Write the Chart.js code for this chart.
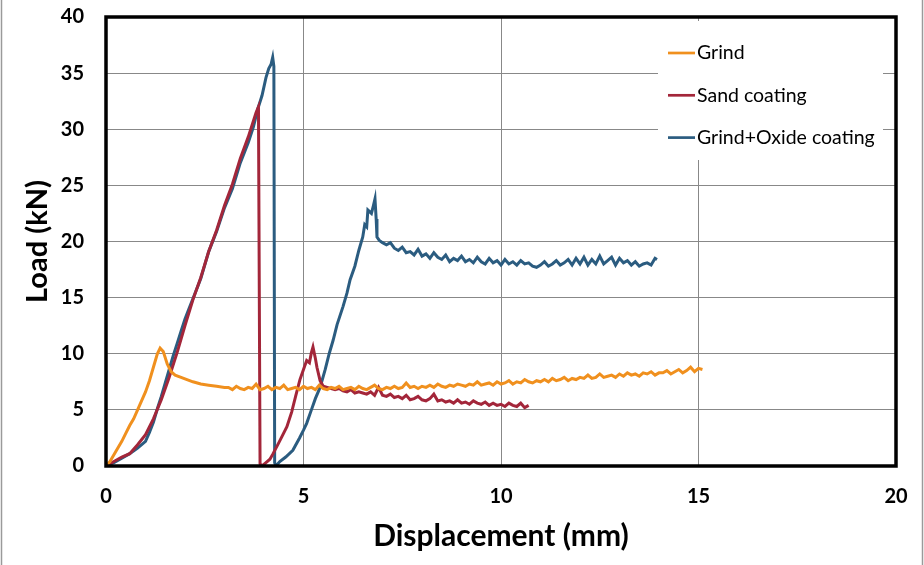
<!DOCTYPE html>
<html>
<head>
<meta charset="utf-8">
<script src="https://cdn.jsdelivr.net/npm/chart.js@4/dist/chart.umd.min.js"></script>
<style>
  html, body { margin: 0; padding: 0; background: #fff; }
  #wrap { width: 924px; height: 565px; position: relative; }
</style>
</head>
<body>
<div id="wrap"><canvas id="grafico" width="924" height="565"></canvas></div>
<script>
// Grind
const grindX = [0,0.1,0.2,0.3,0.4,0.5,0.6,0.7,0.8,0.9,1.0,1.1,1.2,1.3,1.37,1.45,1.55,1.65,1.75,1.9,2.05,2.2,2.4,2.6,2.8,3.0,
  3.1,3.2,3.3,3.4,3.5,3.6,3.7,3.8,3.9,4.0,4.1,4.2,4.3,4.4,4.5,4.6,4.7,4.8,4.9,5.0,
  5.1,5.2,5.3,5.4,5.5,5.6,5.7,5.8,5.9,6.0,6.1,6.2,6.3,6.4,6.5,6.6,6.7,6.8,6.9,7.0,
  7.1,7.2,7.3,7.4,7.5,7.6,7.7,7.8,7.9,8.0,8.1,8.2,8.3,8.4,8.5,8.6,8.7,8.8,8.9,9.0,
  9.1,9.2,9.3,9.4,9.5,9.6,9.7,9.8,9.9,10.0,10.1,10.2,10.3,10.4,10.5,10.6,10.7,10.8,10.9,11.0,
  11.1,11.2,11.3,11.4,11.5,11.6,11.7,11.8,11.9,12.0,12.1,12.2,12.3,12.4,12.5,12.6,12.7,12.8,12.9,13.0,
  13.1,13.2,13.3,13.4,13.5,13.6,13.7,13.8,13.9,14.0,14.1,14.2,14.3,14.4,14.5,14.6,14.7,14.8,14.9,15.0,15.1];
const grindY = [0,0.4,1.0,1.6,2.2,2.9,3.6,4.2,5.0,5.8,6.6,7.6,8.8,10.0,10.5,10.2,9.1,8.4,8.1,7.9,7.7,7.5,7.3,7.2,7.1,7.0,
  7.0,6.8,7.1,6.9,6.8,7.0,6.9,7.3,6.8,6.9,7.1,6.8,7.0,6.9,7.2,6.8,6.9,7.0,6.8,7.1,
  6.9,7.0,6.8,7.2,6.9,6.8,7.0,6.9,7.1,6.8,6.9,7.0,6.8,7.1,6.9,6.8,7.0,7.2,6.9,6.8,
  7.0,6.9,7.1,6.9,7.0,7.4,7.0,7.1,6.9,7.1,7.0,7.2,7.0,7.3,7.1,7.0,7.2,7.1,7.3,7.2,
  7.1,7.3,7.2,7.5,7.2,7.3,7.4,7.2,7.5,7.3,7.4,7.6,7.3,7.5,7.4,7.7,7.5,7.4,7.6,7.5,
  7.7,7.5,7.8,7.6,7.7,7.9,7.6,7.8,7.7,7.9,7.8,8.1,7.8,7.9,8.2,7.9,8.0,8.1,7.9,8.2,
  8.0,8.3,8.1,8.2,8.0,8.3,8.2,8.4,8.1,8.3,8.3,8.5,8.2,8.4,8.6,8.3,8.5,8.8,8.4,8.7,8.6];

// Sand coating
const sandX = [0,0.2,0.4,0.6,0.8,1.0,1.2,1.4,1.6,1.8,2.0,2.2,2.4,2.6,2.8,3.0,3.2,3.4,3.6,3.8,3.86,3.9,3.95,
  4.05,4.15,4.23,4.35,4.45,4.58,4.7,4.8,4.91,5.0,5.08,5.15,5.2,5.24,5.3,5.34,5.42,5.5,
  5.6,5.7,5.8,5.9,6.0,6.1,6.2,6.3,6.4,6.5,6.6,6.7,6.8,6.9,7.0,7.1,7.2,7.3,7.4,7.5,7.6,7.7,7.8,7.9,8.0,
  8.1,8.2,8.3,8.4,8.5,8.6,8.7,8.8,8.9,9.0,9.1,9.2,9.3,9.4,9.5,9.6,9.7,9.8,9.9,10.0,10.1,10.2,10.3,10.4,10.5,10.6,10.7];
const sandY = [0,0.4,0.8,1.1,1.9,2.8,4.2,5.9,7.9,10.1,12.5,14.8,16.8,19.1,21.0,23.2,25.1,27.4,29.3,31.5,32.0,0.2,0,
  0.3,0.6,1.1,1.9,2.6,3.5,4.8,6.2,7.7,8.6,9.4,9.2,10.1,10.6,9.6,8.8,7.6,7.1,
  7.0,6.9,6.8,6.9,6.7,6.6,6.8,6.5,6.6,6.5,6.4,6.6,6.3,7.0,6.3,6.2,6.4,6.1,6.2,6.0,6.3,5.9,6.0,6.2,5.9,
  5.8,6.0,6.4,5.8,5.9,5.7,5.8,5.6,5.9,5.6,5.7,5.5,5.8,5.6,5.5,5.7,5.4,5.6,5.4,5.5,5.3,5.6,5.4,5.3,5.6,5.2,5.4];

// Grind+Oxide coating
const oxideX = [0,0.2,0.4,0.6,0.8,1.0,1.1,1.2,1.3,1.4,1.5,1.6,1.7,1.8,1.9,2.0,2.1,2.2,2.4,2.6,2.8,3.0,3.2,3.4,3.6,3.73,3.85,3.95,4.05,4.12,4.18,4.22,4.25,4.27,4.3,
  4.4,4.55,4.73,4.9,5.0,5.08,5.2,5.3,5.42,5.55,5.65,5.75,5.85,6.0,6.1,6.18,6.3,6.4,6.5,6.55,6.6,6.63,6.72,6.77,6.81,6.84,6.86,6.92,7.0,
  7.1,7.2,7.3,7.4,7.5,7.6,7.7,7.8,7.9,8.0,8.1,8.2,8.3,8.4,8.5,8.6,8.7,8.8,8.9,9.0,
  9.1,9.2,9.3,9.4,9.5,9.6,9.7,9.8,9.9,10.0,10.1,10.2,10.3,10.4,10.5,10.6,10.7,10.8,10.9,11.0,
  11.1,11.2,11.3,11.4,11.5,11.6,11.7,11.8,11.9,12.0,12.1,12.2,12.3,12.4,12.5,12.6,12.7,12.8,12.9,13.0,
  13.1,13.2,13.3,13.4,13.5,13.6,13.7,13.8,13.9,13.95];
const oxideY = [0,0.3,0.7,1.1,1.6,2.2,3.0,3.9,5.1,6.2,7.4,8.6,9.8,10.9,12.0,13.1,14.0,14.9,16.7,19.1,20.9,23.0,24.7,27.0,28.8,30.2,31.9,33.0,34.6,35.4,35.8,36.4,35.6,0.3,0,
  0.4,0.8,1.4,2.5,3.2,3.8,5.0,6.0,7.0,8.6,10.0,11.2,12.6,14.2,15.4,16.6,17.8,19.2,20.4,21.5,21.3,22.8,22.5,23.2,23.8,22.0,20.4,20.1,19.9,
  19.7,19.9,19.4,19.2,19.5,19.0,19.1,18.8,19.3,18.7,18.9,18.5,19.0,18.6,18.4,18.8,18.2,18.5,18.3,18.7,
  18.2,18.4,18.1,18.6,18.2,18.0,18.5,18.1,18.3,17.9,18.4,18.0,18.2,17.9,18.3,18.0,18.1,17.8,17.7,17.9,
  18.2,17.8,18.0,18.3,17.9,18.1,18.4,17.9,18.5,18.0,18.6,17.9,18.4,18.0,18.7,18.0,18.3,18.6,17.9,18.5,
  18.1,18.3,17.9,18.2,17.8,18.0,18.1,17.9,18.5,18.4];

const xTicks = [0, 5, 10, 15, 20];
const yTicks = [0, 5, 10, 15, 20, 25, 30, 35, 40];

const fonte = 'Lato, "Open Sans", sans-serif';

function pontos(xs, ys) {
  return xs.map((x, i) => ({ x: x, y: ys[i] }));
}

function serie(label, xs, ys, cor) {
  return {
    label: label,
    data: pontos(xs, ys),
    borderColor: cor,
    backgroundColor: cor,
    borderWidth: 3,
    pointRadius: 0,
    showLine: true,
    tension: 0
  };
}

// sem folga extra das legendas dos ticks: a área de plotagem fica onde o layout manda
function semFolga(s) {
  s.paddingTop = 0; s.paddingBottom = 0; s.paddingLeft = 0; s.paddingRight = 0;
}

// fundo, moldura do gráfico e da área de plotagem, legenda dentro da área
const molduraPlugin = {
  id: 'moldura',
  beforeDraw(chart) {
    const ctx = chart.ctx;
    ctx.save();
    ctx.fillStyle = '#fff';
    ctx.fillRect(0, 0, chart.width, chart.height);
    ctx.strokeStyle = '#9a9a9a';
    ctx.lineWidth = 1.5;
    ctx.beginPath();
    ctx.moveTo(1.5, 0); ctx.lineTo(1.5, chart.height);
    ctx.moveTo(chart.width - 1.5, 0); ctx.lineTo(chart.width - 1.5, chart.height);
    ctx.stroke();
    ctx.restore();
  },
  afterDatasetsDraw(chart) {
    const ctx = chart.ctx;
    const a = chart.chartArea;
    ctx.save();
    // legenda
    const lx = a.right - 238;
    ctx.fillStyle = '#fff';
    ctx.fillRect(lx, a.top + 4, 225, 139);
    ctx.font = '19.5px ' + fonte;
    ctx.textBaseline = 'middle';
    chart.data.datasets.forEach((ds, i) => {
      const y = a.top + 36 + i * 42.3;
      ctx.strokeStyle = ds.borderColor;
      ctx.lineWidth = 2.7;
      ctx.beginPath();
      ctx.moveTo(lx + 10, y);
      ctx.lineTo(lx + 37, y);
      ctx.stroke();
      ctx.fillStyle = '#000';
      ctx.fillText(ds.label, lx + 39, y);
    });
    // moldura preta
    ctx.strokeStyle = '#000';
    ctx.lineWidth = 3.5;
    ctx.strokeRect(a.left, a.top, a.right - a.left, a.bottom - a.top);
    ctx.restore();
  }
};

new Chart(document.getElementById('grafico').getContext('2d'), {
  type: 'scatter',
  data: {
    datasets: [
      serie('Grind', grindX, grindY, '#F0901E'),
      serie('Sand coating', sandX, sandY, '#A3263A'),
      serie('Grind+Oxide coating', oxideX, oxideY, '#2B5C80')
    ]
  },
  options: {
    responsive: false,
    animation: false,
    layout: { padding: { top: 17, right: 28, left: 0, bottom: 0 } },
    plugins: { legend: { display: false }, tooltip: { enabled: false } },
    scales: {
      x: {
        type: 'linear', min: 0, max: 20,
        afterBuildTicks: s => { s.ticks = xTicks.map(v => ({ value: v })); },
        afterFit: s => { s.height = 99; semFolga(s); },
        grid: { color: '#888', lineWidth: 1, drawTicks: false },
        border: { display: false },
        ticks: { color: '#000', padding: 19, font: { family: fonte, size: 20, weight: 'bold' } },
        title: { display: true, text: 'Displacement (mm)', color: '#000', padding: { top: 0, bottom: 11 },
          font: { family: fonte, size: 30, weight: 'bold' } }
      },
      y: {
        type: 'linear', min: 0, max: 40,
        afterBuildTicks: s => { s.ticks = yTicks.map(v => ({ value: v })); },
        afterFit: s => { s.width = 106; semFolga(s); },
        grid: { color: '#888', lineWidth: 1, drawTicks: false },
        border: { display: false },
        ticks: { color: '#000', padding: 22, font: { family: fonte, size: 20, weight: 'bold' } },
        title: { display: true, text: 'Load (kN)', color: '#000', padding: { top: 20, bottom: 0 },
          font: { family: fonte, size: 29, weight: 'bold' } }
      }
    }
  },
  plugins: [molduraPlugin]
});
</script>
</body>
</html>
